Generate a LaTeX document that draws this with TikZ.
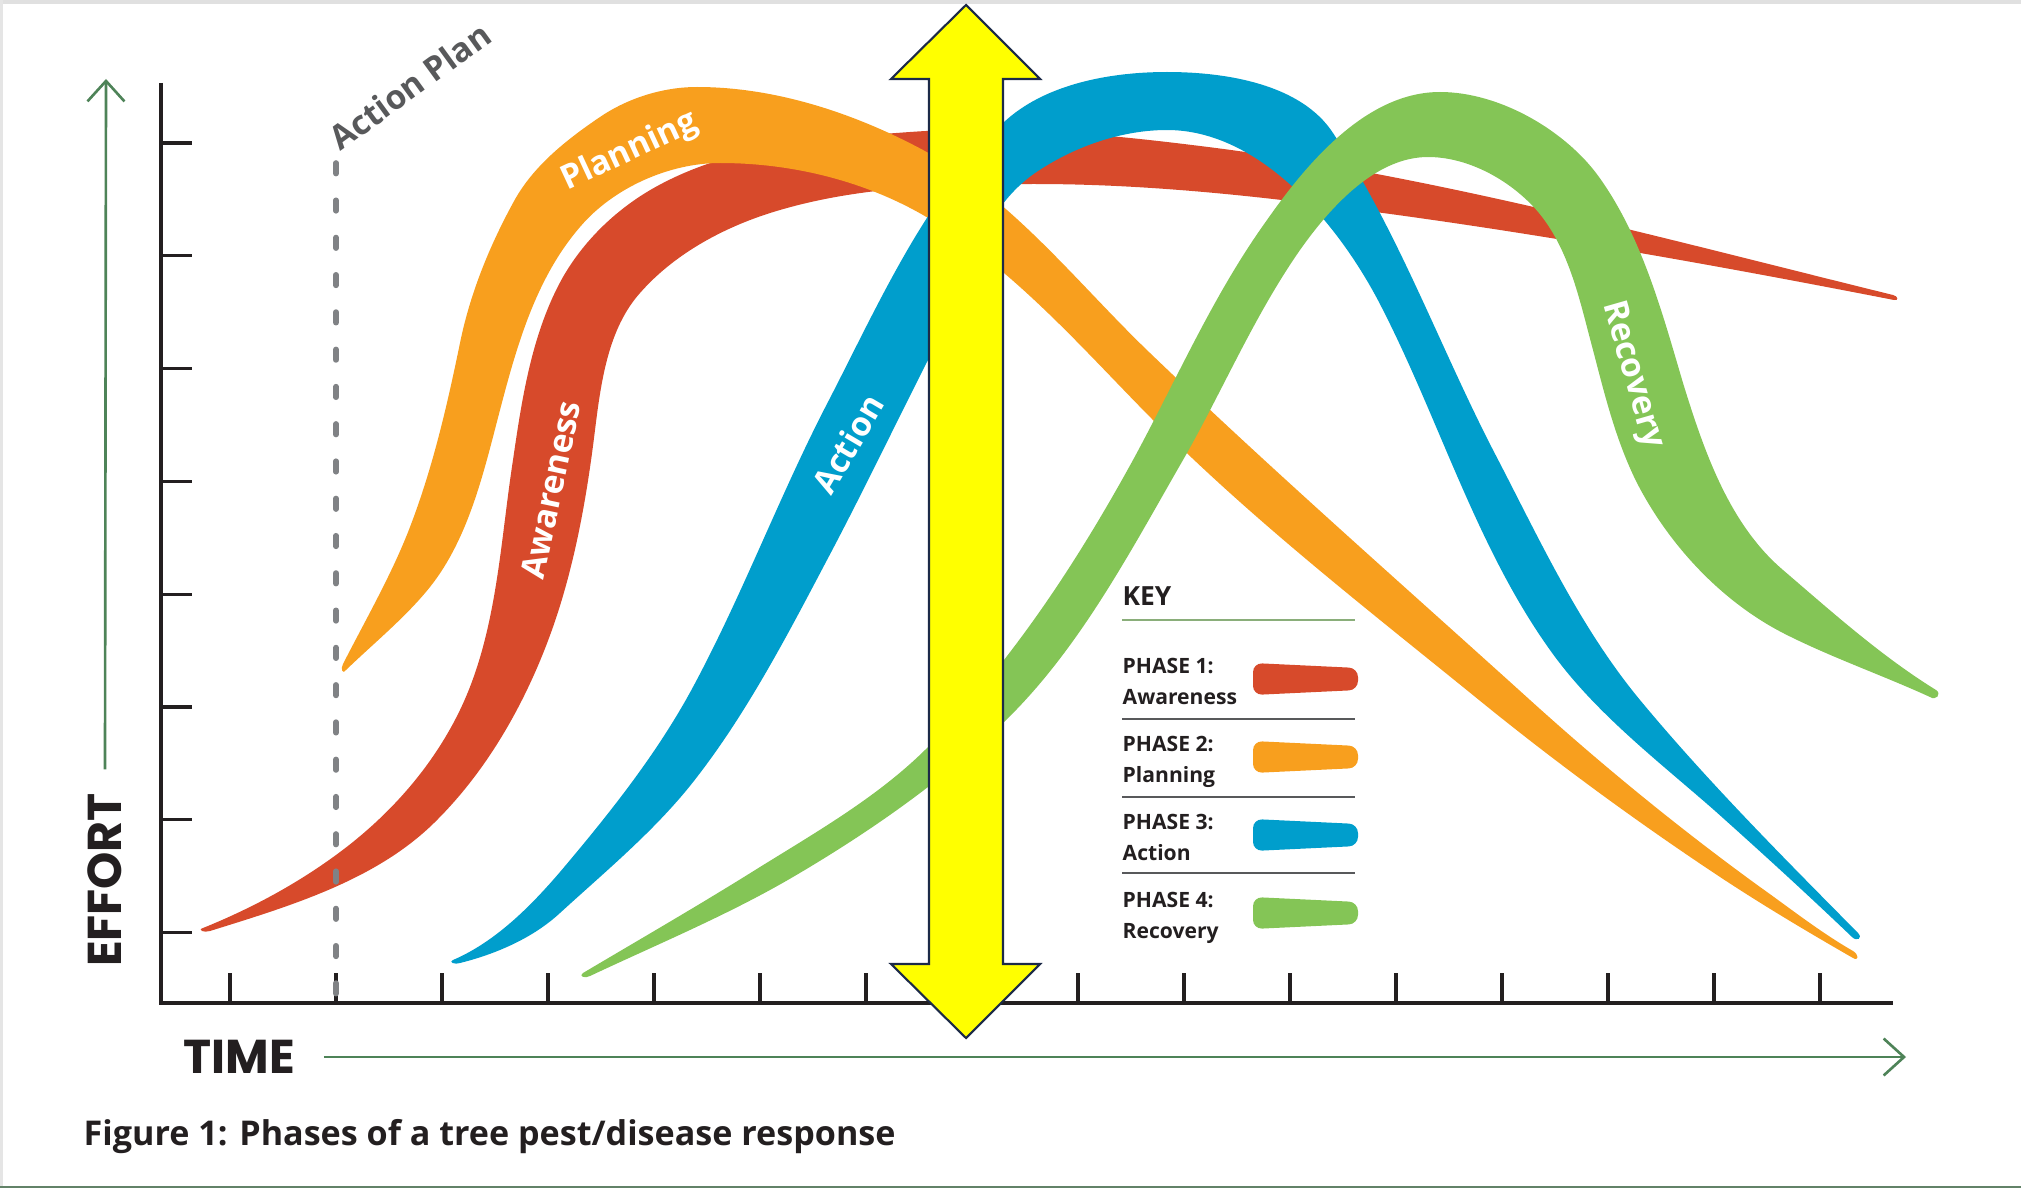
\documentclass[tikz,border=0pt]{standalone}
\usepackage{fontspec}
\setmainfont{Open Sans}
\newfontfamily\geofont{Poppins}
\usetikzlibrary{arrows.meta, positioning}

\definecolor{AwareRed}{HTML}{D74A2B}
\definecolor{PlanOrange}{HTML}{F89F1E}
\definecolor{ActBlue}{HTML}{009ECC}
\definecolor{RecGreen}{HTML}{84C556}
\definecolor{AxisDark}{HTML}{231F20}
\definecolor{ArrowGreen}{HTML}{4E8358}
\definecolor{PlanGrey}{HTML}{808285}
\definecolor{LabelGrey}{HTML}{58595B}
\definecolor{KeyGreen}{HTML}{8AAE7A}
\definecolor{HiYellow}{HTML}{FFFF00}
\definecolor{HiNavy}{HTML}{1C2A48}

\begin{document}
\begin{tikzpicture}[x=0.01cm, y=-0.01cm,
    axis/.style={AxisDark, line width=0.9pt},
    greenarrow/.style={ArrowGreen, line width=0.75pt, -{Straight Barb[length=5.8pt, width=10.5pt, line width=0.75pt]}},
    axisname/.style={AxisDark, inner sep=0pt, font=\geofont\bfseries\fontsize{13.5}{14}\selectfont},
    planline/.style={PlanGrey, line width=1.6pt, line cap=round, dash pattern=on 3pt off 7.6pt},
    bandlabel/.style={white, inner sep=0pt, font=\bfseries\fontsize{9.5}{11}\selectfont},
    keytext/.style={AxisDark, anchor=base west, inner sep=0pt, font=\bfseries\fontsize{6}{7}\selectfont},
    keyrule/.style={LabelGrey, line width=0.6pt}]
  \useasboundingbox (0,0) rectangle (2021,1188);

  % edges of the scanned page
  \draw[black!12, line width=1.2pt] (0,2) -- (2021,2);
  \draw[black!10, line width=1pt] (1,0) -- (1,1188);
  \draw[ArrowGreen!60!gray, line width=0.8pt] (0,1187) -- (2021,1187);

  % axes and ticks
  \coordinate (ytop) at (161,83);
  \coordinate (origin) at (161,1003);
  \coordinate (xend) at (1893,1003);
  \draw[axis] (ytop) -- (origin) -- (xend);
  \foreach \k in {0,...,7}
    \draw[axis] (161,{143+112.8*\k}) -- ++(31,0);
  \foreach \k in {0,...,15}
    \draw[axis] ({230+106*\k},1003) -- ++(0,-30);

  % phase 1: awareness
  \fill[AwareRed] (203,928) .. controls +(47,-19) and +(-41,30) .. (336,855)
    .. controls +(52,-38) and +(-28,58) .. (460,710)
    .. controls +(37,-77) and +(-13,84) .. (513,460)
    .. controls +(9,-62) and +(-31,55) .. (563,277)
    .. controls +(23,-40) and +(-41,21) .. (663,183)
    .. controls +(75,-39) and +(-84,6) .. (910,132)
    .. controls +(97,-7) and +(-96,-12) .. (1200,146)
    .. controls +(229,28) and +(-224,-55) .. (1893,295)
    .. controls +(5,1) and +(5,1) .. (1894,300)
    .. controls +(-169,-33) and +(170,23) .. (1383,213)
    .. controls +(-115,-16) and +(116,0) .. (1035,184)
    .. controls +(-85,0) and +(82,-24) .. (780,210)
    .. controls +(-52,15) and +(36,-41) .. (640,293)
    .. controls +(-32,36) and +(6,-48) .. (595,430)
    .. controls +(-8,66) and +(22,-63) .. (553,627)
    .. controls +(-25,71) and +(53,-53) .. (437,820)
    .. controls +(-59,60) and +(80,-25) .. (210,931)
    .. controls +(-6,2) and +(-6,2) .. (203,928) -- cycle;

  % phase 2: planning
  \fill[PlanOrange] (343,664) .. controls +(23,-45) and +(-18,47) .. (410,527)
    .. controls +(23,-60) and +(-13,63) .. (460,343)
    .. controls +(10,-49) and +(-24,44) .. (513,203)
    .. controls +(19,-36) and +(-34,23) .. (600,117)
    .. controls +(28,-19) and +(-34,0) .. (697,87)
    .. controls +(78,0) and +(-69,-37) .. (923,150)
    .. controls +(90,49) and +(-73,-70) .. (1150,353)
    .. controls +(124,119) and +(-127,-115) .. (1530,700)
    .. controls +(73,66) and +(-80,-58) .. (1760,887)
    .. controls +(31,22) and +(-33,-19) .. (1853,951)
    .. controls +(6,3.5) and +(6,3.5) .. (1853,958)
    .. controls +(-47,-27) and +(45,30) .. (1714,873)
    .. controls +(-81,-54) and +(75,61) .. (1479,700)
    .. controls +(-112,-91) and +(102,103) .. (1150,417)
    .. controls +(-71,-72) and +(88,51) .. (923,215)
    .. controls +(-61,-35) and +(70,0) .. (720,163)
    .. controls +(-51,0) and +(33,-39) .. (580,227)
    .. controls +(-44,51) and +(17,-65) .. (500,410)
    .. controls +(-16,61) and +(39,-49) .. (430,587)
    .. controls +(-24,30) and +(28,-27) .. (346,670)
    .. controls +(-3,5) and +(-3,5) .. (343,664) -- cycle;

  % phase 3: action
  \fill[ActBlue] (453,960) .. controls +(42,-18) and +(-30,35) .. (560,872)
    .. controls +(49,-58) and +(-36,67) .. (693,687)
    .. controls +(50,-93) and +(-49,94) .. (829,400)
    .. controls +(50,-97) and +(-78,75) .. (1003,123)
    .. controls +(41,-39) and +(-57,0) .. (1167,72)
    .. controls +(59,0) and +(-32,-49) .. (1333,133)
    .. controls +(65,98) and +(-54,-105) .. (1493,450)
    .. controls +(45,86) and +(-62,-75) .. (1640,700)
    .. controls +(68,82) and +(-74,-75) .. (1858,933)
    .. controls +(5,5) and +(5,5) .. (1852,937)
    .. controls +(-45,-43) and +(47,42) .. (1714,810)
    .. controls +(-57,-50) and +(44,62) .. (1550,650)
    .. controls +(-73,-102) and +(57,112) .. (1383,310)
    .. controls +(-42,-84) and +(94,0) .. (1167,130)
    .. controls +(-46,0) and +(38,-26) .. (1035,173)
    .. controls +(-59,41) and +(32,-64) .. (928,360)
    .. controls +(-34,67) and +(35,-66) .. (827,560)
    .. controls +(-39,74) and +(51,-66) .. (697,777)
    .. controls +(-39,51) and +(47,-43) .. (560,913)
    .. controls +(-27,25) and +(36,-9) .. (460,963)
    .. controls +(-5,2) and +(-5,2) .. (453,960) -- cycle;

  % phase 4: recovery
  \fill[RecGreen] (583,973) .. controls +(59,-35) and +(-59,37) .. (760,867)
    .. controls +(58,-36) and +(-48,48) .. (927,748)
    .. controls +(83,-84) and +(-57,104) .. (1133,460)
    .. controls +(44,-81) and +(-54,75) .. (1267,220)
    .. controls +(42,-60) and +(-72,0) .. (1440,92)
    .. controls +(60,0) and +(-33,-46) .. (1599,177)
    .. controls +(43,60) and +(-21,-71) .. (1683,383)
    .. controls +(21,68) and +(-54,-46) .. (1783,570)
    .. controls +(49,42) and +(-55,-34) .. (1936,690)
    .. controls +(6,4) and +(6,4) .. (1930,697)
    .. controls +(-48,-22) and +(47,24) .. (1783,633)
    .. controls +(-62,-32) and +(32,62) .. (1637,483)
    .. controls +(-21,-42) and +(12,46) .. (1593,350)
    .. controls +(-13,-48) and +(31,38) .. (1539,213)
    .. controls +(-26,-31) and +(42,0) .. (1428,157)
    .. controls +(-52,0) and +(31,-44) .. (1300,250)
    .. controls +(-46,66) and +(40,-70) .. (1183,460)
    .. controls +(-53,92) and +(76,-73) .. (1003,723)
    .. controls +(-63,60) and +(75,-44) .. (793,877)
    .. controls +(-65,38) and +(68,-32) .. (590,976)
    .. controls +(-5,3) and +(-5,3) .. (583,973) -- cycle;

  % action plan marker
  \coordinate (plantop) at (336,163);
  \coordinate (planfoot) at (336,1003);
  \draw[planline] (plantop) -- (planfoot);
  \node[LabelGrey, rotate=36, inner sep=0pt, font=\bfseries\fontsize{9.5}{11}\selectfont] (actionplan) at (410,86) {Action Plan};

  % labels on the bands
  \node[bandlabel, rotate=25] (planning) at (630,152) {Planning};
  \node[bandlabel, rotate=78] (awareness) at (551,490) {Awareness};
  \node[bandlabel, rotate=59.5] (action) at (848,444) {Action};
  \node[bandlabel, rotate=-74] (recovery) at (1632,375) {Recovery};

  % key
  \node[AxisDark, anchor=base west, inner sep=0pt, font=\bfseries\fontsize{7.5}{9}\selectfont] (key) at (1122,605) {KEY};
  \draw[KeyGreen, line width=0.6pt] (1122,620) -- (1355,620);
  \foreach \y in {719,797,873}
    \draw[keyrule] (1122,\y) -- (1355,\y);
  \foreach \i/\pname/\pcol in {1/Awareness/AwareRed, 2/Planning/PlanOrange, 3/Action/ActBlue, 4/Recovery/RecGreen}{
    \node[keytext] (phase\i) at (1122,{673+78*(\i-1)}) {PHASE \i:};
    \node[keytext] (pname\i) at (1122,{704+78*(\i-1)}) {\pname};
    \fill[\pcol, rounded corners=2.6pt] (1253,{663+78*(\i-1)}) -- (1358,{668+78*(\i-1)})
      -- (1358,{690+78*(\i-1)}) -- (1253,{695+78*(\i-1)}) -- cycle;
  }

  % axis names
  \node[axisname, rotate=90] (effort) at (105,880) {EFFORT};
  \coordinate (efforttip) at (106,79);
  \draw[greenarrow] ([yshift=6.5pt]effort.east) -- (efforttip);
  \node[axisname, anchor=west] (time) at (183,1057) {TIME};
  \coordinate (timetip) at (1906,1057);
  \draw[greenarrow] ([xshift=8pt]time.east) -- (timetip);

  \node[AxisDark, anchor=base west, inner sep=0pt, font=\bfseries\fontsize{9.7}{11}\selectfont] (caption) at (83,1145) {Figure 1: Phases of a tree pest/disease response};

  % highlight arrow
  \draw[HiNavy, fill=HiYellow, line width=0.6pt] (966,5) -- (1040,79) -- (1003,79) -- (1003,964) -- (1040,964)
    -- (966,1038) -- (891,964) -- (929,964) -- (929,79) -- (891,79) -- cycle;
\end{tikzpicture}
\end{document}
